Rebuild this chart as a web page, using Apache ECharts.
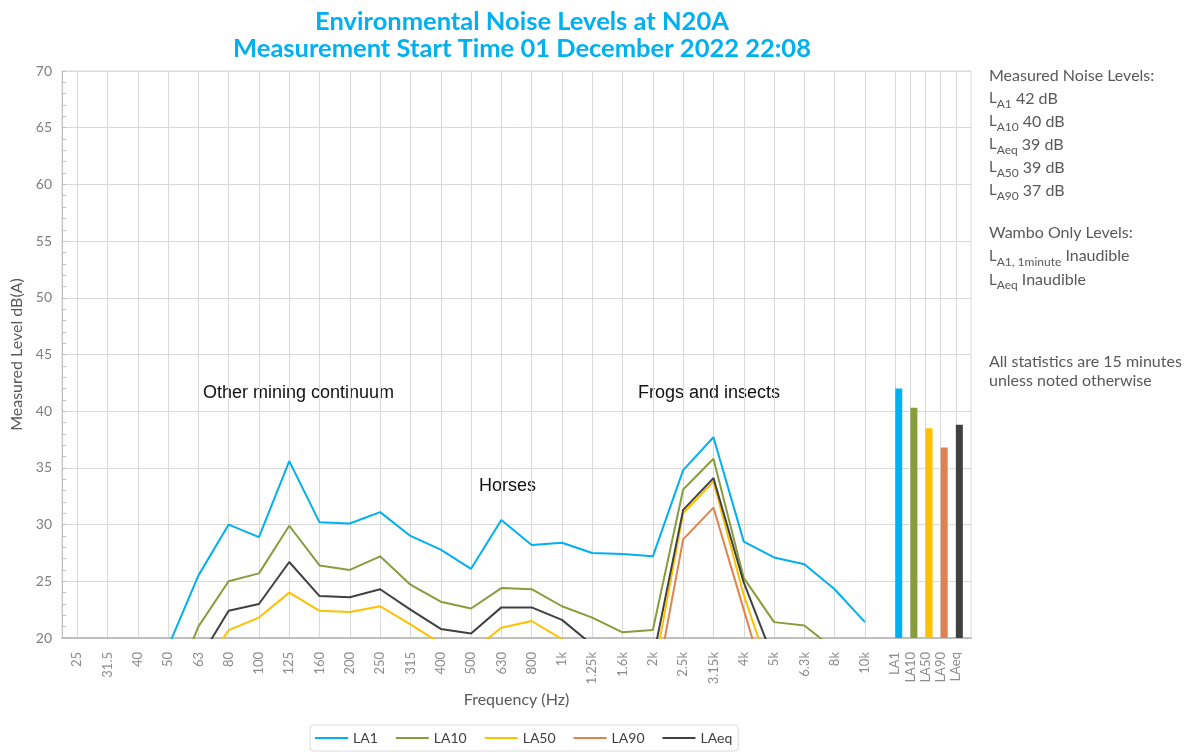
<!DOCTYPE html>
<html>
<head>
<meta charset="utf-8">
<title>Environmental Noise Levels at N20A</title>
<script src="https://cdn.jsdelivr.net/npm/echarts@6/dist/echarts.min.js"></script>
<style>
  html, body { margin: 0; padding: 0; background: #fff; }
  #chart { width: 1192px; height: 754px; }
</style>
</head>
<body>
<div id="chart"></div>
<script>
// 1/3 octave bands (Hz)
var bands = ['25', '31.5', '40', '50', '63', '80', '100', '125', '160', '200', '250', '315', '400', '500',
  '630', '800', '1k', '1.25k', '1.6k', '2k', '2.5k', '3.15k', '4k', '5k', '6.3k', '8k', '10k'];

// band levels dB(A), null = under the axis and not visible
var la1 = [null, null, null, 19.2, 25.5, 30.0, 28.9, 35.6, 30.2, 30.1, 31.1, 29.0, 27.8, 26.1,
  30.4, 28.2, 28.4, 27.5, 27.4, 27.2, 34.8, 37.7, 28.5, 27.1, 26.5, 24.3, 21.4];
var la10 = [null, null, null, 14.5, 21.0, 25.0, 25.7, 29.9, 26.4, 26.0, 27.2, 24.7, 23.2, 22.6,
  24.4, 24.3, 22.8, 21.8, 20.5, 20.7, 33.1, 35.8, 25.3, 21.4, 21.1, 19.0, null];
var la50 = [null, null, null, null, 16.7, 20.7, 21.8, 24.0, 22.4, 22.3, 22.8, 21.2, 19.5, 18.8,
  20.9, 21.5, 19.9, null, null, 16.6, 31.0, 33.8, 23.8, 15.9, null, null, null];
var la90 = [null, null, null, null, null, null, null, null, null, null, null, null, null, null,
  null, null, null, null, null, 14.3, 28.7, 31.5, 22.5, 13.5, null, null, null];
var laeq = [null, null, null, null, 18.0, 22.4, 23.0, 26.7, 23.7, 23.6, 24.3, 22.5, 20.8, 20.4,
  22.7, 22.7, 21.6, 19.4, null, 18.1, 31.3, 34.1, 24.9, 18.0, null, null, null];

// overall statistics (bars on the right)
var statNames = ['LA1', 'LA10', 'LA50', 'LA90', 'LAeq'];
var statValues = [42.0, 40.3, 38.5, 36.8, 38.8];

var colors = {
  LA1: '#00B0F0',
  LA10: '#879D3C',
  LA50: '#FFC000',
  LA90: '#E0824F',
  LAeq: '#404040'
};

var yMin = 20, yMax = 70, yStep = 5;

// each band takes two slots on the axis, the statistics take one
var statStart = bands.length * 2 + 1;
var slots = [];
for (var k = 0; k <= statStart + statNames.length; k++) slots.push('');
bands.forEach(function (b, i) { slots[2 * i + 1] = b; });
statNames.forEach(function (s, j) { slots[statStart + j] = s; });

function toPoints(values) {
  return values.map(function (v, i) { return [2 * i + 1, v]; });
}

function lineSeries(name, values) {
  return {
    name: name,
    type: 'line',
    data: toPoints(values),
    symbol: 'none',
    connectNulls: false,
    clip: true,
    lineStyle: { color: colors[name], width: 2 },
    itemStyle: { color: colors[name] },
    z: 3
  };
}

function dB(name) {
  return Math.round(statValues[statNames.indexOf(name)]) + ' dB';
}

var grey = '#595959';
var font = 'Lato';

var myChart = echarts.init(document.getElementById('chart'));
myChart.setOption({
  animation: false,
  textStyle: { fontFamily: font },
  title: {
    text: 'Environmental Noise Levels at N20A\nMeasurement Start Time 01 December 2022 22:08',
    left: 517,
    textAlign: 'center',
    top: 3,
    textStyle: {
      color: '#00B0F0',
      fontSize: 25.5,
      fontWeight: 'bold',
      fontFamily: font,
      lineHeight: 27
    }
  },
  grid: {
    left: 62,
    right: 221,
    top: 71,
    bottom: 116,
    show: true,
    borderColor: '#D9D9D9',
    borderWidth: 1
  },
  legend: {
    data: ['LA1', 'LA10', 'LA50', 'LA90', 'LAeq'],
    left: 310,
    top: 725,
    icon: 'rect',
    itemWidth: 33,
    itemHeight: 2,
    itemGap: 18,
    padding: [6, 6, 6, 5],
    borderColor: '#D9D9D9',
    borderWidth: 1,
    borderRadius: 3,
    textStyle: { color: '#404040', fontSize: 14, fontFamily: font }
  },
  xAxis: {
    type: 'category',
    data: slots,
    boundaryGap: false,
    name: 'Frequency (Hz)',
    nameLocation: 'middle',
    nameGap: 52,
    nameTextStyle: { color: grey, fontSize: 16 },
    axisLine: { lineStyle: { color: '#BFBFBF', width: 2 } },
    axisTick: { show: false },
    axisLabel: {
      interval: 0,
      rotate: 90,
      margin: 14,
      color: '#8C8C8C',
      fontSize: 13
    },
    splitLine: {
      show: true,
      interval: function (idx, val) { return val !== ''; },
      lineStyle: { color: '#D9D9D9', width: 1 }
    }
  },
  yAxis: {
    type: 'value',
    min: yMin,
    max: yMax,
    interval: yStep,
    name: 'Measured Level dB(A)',
    nameLocation: 'middle',
    nameGap: 37,
    nameTextStyle: { color: grey, fontSize: 16 },
    axisLine: { show: true, lineStyle: { color: '#BFBFBF', width: 1 } },
    axisTick: { show: true, inside: true, length: 4, lineStyle: { color: '#BFBFBF' } },
    minorTick: { show: true, splitNumber: 5, length: 4, lineStyle: { color: '#BFBFBF' } },
    axisLabel: { color: '#7F7F7F', fontSize: 14, margin: 10 },
    splitLine: { lineStyle: { color: '#D9D9D9', width: 1 } }
  },
  series: [
    // empty series so the stat bars sit just right of their grid lines
    { name: 'pad', type: 'bar', data: [], barWidth: 7, silent: true },
    {
      name: 'Statistics',
      type: 'bar',
      barWidth: 7,
      barGap: '0%',
      clip: true,
      z: 2,
      data: statValues.map(function (v, j) {
        return { value: [statStart + j, v], itemStyle: { color: colors[statNames[j]] } };
      })
    },
    lineSeries('LA1', la1),
    lineSeries('LA10', la10),
    lineSeries('LA50', la50),
    lineSeries('LA90', la90),
    lineSeries('LAeq', laeq)
  ],
  graphic: [
    {
      type: 'text', left: 203, top: 384,
      style: { text: 'Other mining continuum', fontFamily: 'Liberation Sans', fontSize: 18, fill: '#111' }
    },
    {
      type: 'text', left: 479, top: 477,
      style: { text: 'Horses', fontFamily: 'Liberation Sans', fontSize: 18, fill: '#111' }
    },
    {
      type: 'text', left: 638, top: 384,
      style: { text: 'Frogs and insects', fontFamily: 'Liberation Sans', fontSize: 18, fill: '#111' }
    },
    {
      type: 'text', left: 989, top: 64,
      style: {
        text: 'Measured Noise Levels:\n' +
          '{l|L}{s|A1} ' + dB('LA1') + '\n' +
          '{l|L}{s|A10} ' + dB('LA10') + '\n' +
          '{l|L}{s|Aeq} ' + dB('LAeq') + '\n' +
          '{l|L}{s|A50} ' + dB('LA50') + '\n' +
          '{l|L}{s|A90} ' + dB('LA90'),
        fontFamily: font, fontSize: 16, fill: grey, lineHeight: 23,
        rich: {
          l: { fontFamily: font, fontSize: 15, color: grey, lineHeight: 23 },
          s: { fontFamily: font, fontSize: 12, color: grey, lineHeight: 23, verticalAlign: 'bottom' }
        }
      }
    },
    {
      type: 'text', left: 989, top: 221,
      style: {
        text: 'Wambo Only Levels:\n' +
          '{l|L}{s|A1, 1minute} Inaudible\n' +
          '{l|L}{s|Aeq} Inaudible',
        fontFamily: font, fontSize: 16, fill: grey, lineHeight: 23.5,
        rich: {
          l: { fontFamily: font, fontSize: 15, color: grey, lineHeight: 23.5 },
          s: { fontFamily: font, fontSize: 12, color: grey, lineHeight: 23.5, verticalAlign: 'bottom' }
        }
      }
    },
    {
      type: 'text', left: 989, top: 352,
      style: {
        text: 'All statistics are 15 minutes\nunless noted otherwise',
        fontFamily: font, fontSize: 16, fill: grey, lineHeight: 19
      }
    }
  ]
});
</script>
</body>
</html>
